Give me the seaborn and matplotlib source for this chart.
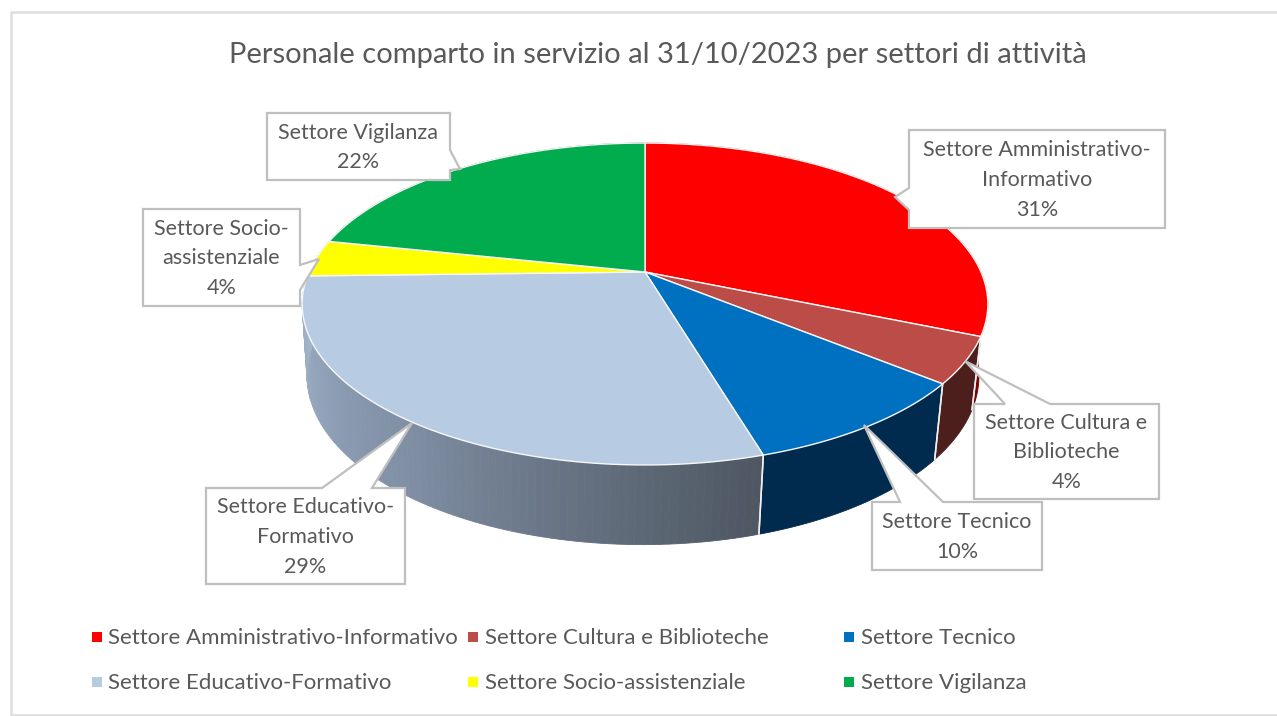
import numpy as np
import matplotlib
matplotlib.use("Agg")
import matplotlib.pyplot as plt
import seaborn as sns

settori = ["Settore Amministrativo-Informativo", "Settore Cultura e Biblioteche", "Settore Tecnico",
           "Settore Educativo-Formativo", "Settore Socio-assistenziale", "Settore Vigilanza"]
valori = [31.3, 4.6, 9.5, 29.2, 3.7, 21.7]
percentuali = ["31%", "4%", "10%", "29%", "4%", "22%"]
etichette = ["Settore Amministrativo-\nInformativo", "Settore Cultura e\nBiblioteche", "Settore Tecnico",
             "Settore Educativo-\nFormativo", "Settore Socio-\nassistenziale", "Settore Vigilanza"]
colori = ["#ff0000", "#bc4c48", "#0070c0", "#b7cbe2", "#ffff00", "#00ac4e"]
colori_lato = ["#7c0000", "#4c1f1c", "#002a4e", None, "#808000", "#005a28"]
titolo = "Personale comparto in servizio al 31/10/2023 per settori di attività"

# callout boxes: (left, top, right, bottom), pointer tip, pointer base
box = [(909, 130, 1165, 228), (974, 404, 1159, 499), (872, 502, 1042, 570),
       (206, 488, 405, 584), (143, 209, 300, 306), (267, 113, 450, 180)]
punte = [(895, 197), (965, 361), (864, 425), (412, 423), (319, 259), (460, 169)]
basi = [[(909, 188), (909, 210)], [(1005, 404), (1050, 404)], [(900, 502), (943, 502)],
        [(322, 488), (372, 488)], [(300, 265), (300, 290)], [(450, 150), (450, 170)]]

sns.set_theme(style="white")
plt.rcParams['font.family'] = ['Lato', 'DejaVu Sans']
grigio = "#595959"

fig = plt.figure(figsize=(12.77, 7.16), dpi=100)
ax = fig.add_axes([0, 0, 1, 1])
ax.set_xlim(0, 1277)
ax.set_ylim(716, 0)
ax.axis("off")

# chart frame
ax.plot([1277, 11, 11, 1277], [12, 12, 715, 715], color="#dedede", lw=1.8, zorder=0)

# perspective view of the disc
cx, cy, r = 645, 272, 336
a, b = 154.6, 0.1988


def faccia(t):
    x, v = np.sin(t), -np.cos(t)
    d = 1 - b * v
    return cx + r * x / d, cy + a * v / d


def fondo(t):
    x, v = np.sin(t), -np.cos(t)
    d = 1 - b * v
    return cx - 2 + 0.98 * r * x / d, cy + 70 + 1.05 * a * v / d


bordi = np.cumsum([0] + valori) / np.sum(valori) * 2 * np.pi
spicchi = list(zip(bordi[:-1], bordi[1:]))

# side wall, back pieces first
ordine = sorted(range(len(valori)), key=lambda i: -np.cos(np.mean(spicchi[i])))
for i in ordine:
    t0, t1 = spicchi[i]
    ts = np.linspace(t0, t1, 90)
    if colori_lato[i] is None:
        sfumatura = sns.blend_palette(["#4e5762", "#7f8ea3", "#a3b5ce"], len(ts) - 1)
        for k in range(len(ts) - 1):
            tt = ts[k:k + 2]
            xa, ya = faccia(tt)
            xb, yb = fondo(tt[::-1])
            ax.fill(np.r_[xa, xb], np.r_[ya, yb], color=sfumatura[k], lw=0.6, zorder=2)
    else:
        xa, ya = faccia(ts)
        xb, yb = fondo(ts[::-1])
        ax.fill(np.r_[xa, xb], np.r_[ya, yb], color=colori_lato[i], lw=0.6, zorder=2)
    for t in (t0, t1):
        # seams only where the wall faces the viewer
        if -np.cos(t) > 0.2:
            xa, ya = faccia(t)
            xb, yb = fondo(t)
            ax.plot([xa, xb], [ya, yb], color="#f0f0f0", lw=1.1, zorder=3)

# top face
for i, (t0, t1) in enumerate(spicchi):
    ts = np.linspace(t0, t1, 120)
    xa, ya = faccia(ts)
    ax.fill(np.r_[cx, xa], np.r_[cy, ya], facecolor=colori[i], edgecolor="#f7f7f7", lw=1, zorder=4)

# callouts
for i in range(len(settori)):
    x0, y0, x1, y1 = box[i]
    bordo = [(x0, y0), (x1, y0), (x1, y1), (x0, y1)]
    p0, p1 = basi[i]
    # put the pointer into the side it leaves from
    if p0[0] == x0:
        forma = bordo + [(x0, y1), p1, punte[i], p0, (x0, y0)]
    elif p0[1] == y0:
        forma = [(x0, y0), p0, punte[i], p1] + bordo[1:]
    else:
        forma = bordo[:2] + [p0, punte[i], p1] + bordo[2:]
    ax.fill(*zip(*forma), facecolor="white", edgecolor="#bfbfbf", lw=1.6, zorder=5, joinstyle="miter")
    ax.text((x0 + x1) / 2, (y0 + y1) / 2 + 1, etichette[i] + "\n" + percentuali[i], ha="center", va="center",
            fontsize=15.5, color=grigio, linespacing=1.62, zorder=6)

# legend
colonne = [(97, 108), (473, 485), (849, 861)]
righe = [637, 682]
for i, nome in enumerate(settori):
    mx, tx = colonne[i % 3]
    y = righe[i // 3]
    ax.scatter([mx], [y], marker="s", s=50, color=colori[i], linewidths=0, zorder=5)
    ax.text(tx, y + 1, nome, ha="left", va="center", fontsize=16.05, color=grigio)

ax.text(657.5, 55, titolo, ha="center", va="center", fontsize=21, color=grigio)

fig.savefig("out.png", dpi=100)
